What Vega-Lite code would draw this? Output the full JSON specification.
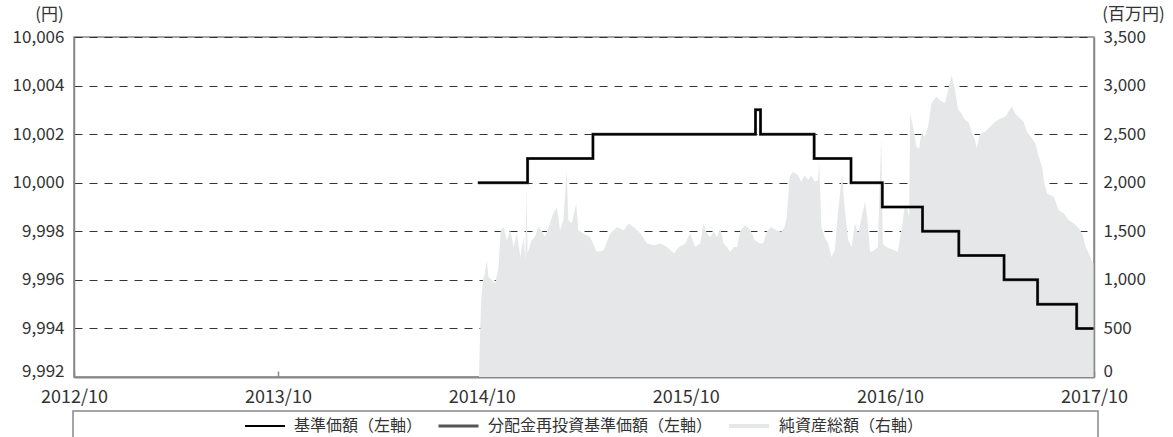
{
  "$schema": "https://vega.github.io/schema/vega-lite/v6.json",
  "width": 1020,
  "height": 340,
  "autosize": {"type": "none"},
  "padding": {"left": 74, "top": 37, "right": 79, "bottom": 60},
  "background": "#ffffff",
  "config": {
    "font": "Noto Sans CJK JP",
    "view": {"stroke": "#888888", "strokeWidth": 1.5},
    "axis": {
      "labelFont": "Noto Sans CJK JP",
      "labelFontSize": 17,
      "labelColor": "#333333",
      "domainColor": "#888888",
      "domainWidth": 1.5,
      "ticks": false,
      "grid": false,
      "titleFont": "Noto Sans CJK JP",
      "titleFontSize": 17,
      "titleFontWeight": "normal",
      "titleColor": "#333333"
    },
    "legend": {
      "orient": "none",
      "legendX": -1,
      "legendY": 374,
      "direction": "horizontal",
      "symbolType": "stroke",
      "symbolSize": 1600,
      "clipHeight": 18,
      "labelFont": "Noto Sans CJK JP",
      "labelFontSize": 16,
      "labelColor": "#333333",
      "labelOffset": 8,
      "labelLimit": 800,
      "columnPadding": 14,
      "padding": 6,
      "strokeColor": "#888888",
      "strokeWidth": 1.5,
      "titleOrient": "left",
      "titleFont": "DejaVu Sans",
      "titleFontSize": 16,
      "titleFontWeight": "normal",
      "titlePadding": 0,
      "titleLimit": 800
    }
  },
  "datasets": {
    "nav": [
      {"date": "2014-09-24", "nav": 10000, "reinvest": 10000},
      {"date": "2014-12-22", "nav": 10001, "reinvest": 10001},
      {"date": "2015-04-18", "nav": 10002, "reinvest": 10002},
      {"date": "2016-02-03", "nav": 10003, "reinvest": 10003},
      {"date": "2016-02-12", "nav": 10002, "reinvest": 10002},
      {"date": "2016-05-18", "nav": 10001, "reinvest": 10001},
      {"date": "2016-07-23", "nav": 10000, "reinvest": 10000},
      {"date": "2016-09-17", "nav": 9999, "reinvest": 9999},
      {"date": "2016-11-28", "nav": 9998, "reinvest": 9998},
      {"date": "2017-02-01", "nav": 9997, "reinvest": 9997},
      {"date": "2017-04-23", "nav": 9996, "reinvest": 9996},
      {"date": "2017-06-22", "nav": 9995, "reinvest": 9995},
      {"date": "2017-08-31", "nav": 9994, "reinvest": 9994},
      {"date": "2017-09-30", "nav": 9994, "reinvest": 9994}
    ],
    "aum": [
      {"date": "2014-09-26", "aum": 0},
      {"date": "2014-09-28", "aum": 450},
      {"date": "2014-09-30", "aum": 800},
      {"date": "2014-10-03", "aum": 997},
      {"date": "2014-10-06", "aum": 1050},
      {"date": "2014-10-10", "aum": 1202},
      {"date": "2014-10-13", "aum": 1030},
      {"date": "2014-10-19", "aum": 1000},
      {"date": "2014-10-25", "aum": 962},
      {"date": "2014-10-31", "aum": 1133},
      {"date": "2014-11-04", "aum": 1511},
      {"date": "2014-11-09", "aum": 1545},
      {"date": "2014-11-15", "aum": 1408},
      {"date": "2014-11-21", "aum": 1511},
      {"date": "2014-11-27", "aum": 1339},
      {"date": "2014-12-03", "aum": 1480},
      {"date": "2014-12-09", "aum": 1236},
      {"date": "2014-12-15", "aum": 1442},
      {"date": "2014-12-18", "aum": 1202},
      {"date": "2014-12-20", "aum": 1957},
      {"date": "2014-12-22", "aum": 1274},
      {"date": "2014-12-29", "aum": 1408},
      {"date": "2015-01-04", "aum": 1442},
      {"date": "2015-01-10", "aum": 1545},
      {"date": "2015-01-16", "aum": 1511},
      {"date": "2015-01-22", "aum": 1442},
      {"date": "2015-01-31", "aum": 1583},
      {"date": "2015-02-06", "aum": 1683},
      {"date": "2015-02-12", "aum": 1751},
      {"date": "2015-02-15", "aum": 1648},
      {"date": "2015-02-18", "aum": 1511},
      {"date": "2015-02-24", "aum": 1614},
      {"date": "2015-03-02", "aum": 2130},
      {"date": "2015-03-05", "aum": 1614},
      {"date": "2015-03-11", "aum": 1583},
      {"date": "2015-03-19", "aum": 1786},
      {"date": "2015-03-23", "aum": 1511},
      {"date": "2015-04-01", "aum": 1477},
      {"date": "2015-04-13", "aum": 1442},
      {"date": "2015-04-25", "aum": 1288},
      {"date": "2015-05-07", "aum": 1305},
      {"date": "2015-05-19", "aum": 1477},
      {"date": "2015-05-31", "aum": 1545},
      {"date": "2015-06-12", "aum": 1511},
      {"date": "2015-06-21", "aum": 1580},
      {"date": "2015-06-30", "aum": 1545},
      {"date": "2015-07-12", "aum": 1477},
      {"date": "2015-07-24", "aum": 1374},
      {"date": "2015-08-05", "aum": 1357},
      {"date": "2015-08-17", "aum": 1374},
      {"date": "2015-08-29", "aum": 1339},
      {"date": "2015-09-10", "aum": 1271},
      {"date": "2015-09-19", "aum": 1339},
      {"date": "2015-09-30", "aum": 1374},
      {"date": "2015-10-09", "aum": 1477},
      {"date": "2015-10-18", "aum": 1339},
      {"date": "2015-10-27", "aum": 1374},
      {"date": "2015-11-02", "aum": 1580},
      {"date": "2015-11-08", "aum": 1477},
      {"date": "2015-11-14", "aum": 1442},
      {"date": "2015-11-20", "aum": 1494},
      {"date": "2015-11-26", "aum": 1442},
      {"date": "2015-12-02", "aum": 1529},
      {"date": "2015-12-08", "aum": 1374},
      {"date": "2015-12-14", "aum": 1339},
      {"date": "2015-12-20", "aum": 1288},
      {"date": "2015-12-26", "aum": 1339},
      {"date": "2016-01-01", "aum": 1339},
      {"date": "2016-01-07", "aum": 1511},
      {"date": "2016-01-16", "aum": 1563},
      {"date": "2016-01-25", "aum": 1511},
      {"date": "2016-02-02", "aum": 1408},
      {"date": "2016-02-11", "aum": 1374},
      {"date": "2016-02-17", "aum": 1374},
      {"date": "2016-02-23", "aum": 1494},
      {"date": "2016-03-02", "aum": 1545},
      {"date": "2016-03-11", "aum": 1511},
      {"date": "2016-03-20", "aum": 1494},
      {"date": "2016-03-26", "aum": 1545},
      {"date": "2016-03-30", "aum": 1648},
      {"date": "2016-04-04", "aum": 2060},
      {"date": "2016-04-10", "aum": 2112},
      {"date": "2016-04-19", "aum": 2078},
      {"date": "2016-04-25", "aum": 2009},
      {"date": "2016-05-01", "aum": 2078},
      {"date": "2016-05-07", "aum": 2027},
      {"date": "2016-05-13", "aum": 2078},
      {"date": "2016-05-19", "aum": 2009},
      {"date": "2016-05-25", "aum": 2027},
      {"date": "2016-05-27", "aum": 2215},
      {"date": "2016-05-31", "aum": 1545},
      {"date": "2016-06-06", "aum": 1442},
      {"date": "2016-06-12", "aum": 1374},
      {"date": "2016-06-18", "aum": 1236},
      {"date": "2016-06-24", "aum": 1305},
      {"date": "2016-06-30", "aum": 1717},
      {"date": "2016-07-04", "aum": 1924},
      {"date": "2016-07-07", "aum": 2095},
      {"date": "2016-07-12", "aum": 1717},
      {"date": "2016-07-18", "aum": 1408},
      {"date": "2016-07-24", "aum": 1339},
      {"date": "2016-07-30", "aum": 1580},
      {"date": "2016-08-05", "aum": 1477},
      {"date": "2016-08-11", "aum": 1648},
      {"date": "2016-08-17", "aum": 1803},
      {"date": "2016-08-21", "aum": 1648},
      {"date": "2016-08-26", "aum": 1288},
      {"date": "2016-09-03", "aum": 1305},
      {"date": "2016-09-09", "aum": 1339},
      {"date": "2016-09-15", "aum": 2473},
      {"date": "2016-09-18", "aum": 1374},
      {"date": "2016-09-24", "aum": 1339},
      {"date": "2016-09-30", "aum": 1323},
      {"date": "2016-10-09", "aum": 1305},
      {"date": "2016-10-15", "aum": 1288},
      {"date": "2016-10-18", "aum": 1408},
      {"date": "2016-10-23", "aum": 1580},
      {"date": "2016-10-27", "aum": 1751},
      {"date": "2016-10-31", "aum": 1751},
      {"date": "2016-11-04", "aum": 1648},
      {"date": "2016-11-06", "aum": 2713},
      {"date": "2016-11-11", "aum": 2576},
      {"date": "2016-11-17", "aum": 2370},
      {"date": "2016-11-22", "aum": 2353},
      {"date": "2016-11-26", "aum": 2507},
      {"date": "2016-12-02", "aum": 2473},
      {"date": "2016-12-08", "aum": 2576},
      {"date": "2016-12-14", "aum": 2817},
      {"date": "2016-12-23", "aum": 2885},
      {"date": "2016-12-29", "aum": 2851},
      {"date": "2017-01-07", "aum": 2817},
      {"date": "2017-01-13", "aum": 2954},
      {"date": "2017-01-19", "aum": 3108},
      {"date": "2017-01-25", "aum": 2954},
      {"date": "2017-01-31", "aum": 2748},
      {"date": "2017-02-06", "aum": 2713},
      {"date": "2017-02-12", "aum": 2645},
      {"date": "2017-02-18", "aum": 2627},
      {"date": "2017-02-24", "aum": 2524},
      {"date": "2017-03-02", "aum": 2439},
      {"date": "2017-03-05", "aum": 2353},
      {"date": "2017-03-11", "aum": 2507},
      {"date": "2017-03-20", "aum": 2524},
      {"date": "2017-03-29", "aum": 2576},
      {"date": "2017-04-07", "aum": 2627},
      {"date": "2017-04-16", "aum": 2662},
      {"date": "2017-04-25", "aum": 2679},
      {"date": "2017-05-01", "aum": 2731},
      {"date": "2017-05-07", "aum": 2782},
      {"date": "2017-05-13", "aum": 2713},
      {"date": "2017-05-22", "aum": 2662},
      {"date": "2017-05-28", "aum": 2627},
      {"date": "2017-06-03", "aum": 2524},
      {"date": "2017-06-12", "aum": 2456},
      {"date": "2017-06-18", "aum": 2404},
      {"date": "2017-06-24", "aum": 2267},
      {"date": "2017-06-30", "aum": 2164},
      {"date": "2017-07-04", "aum": 1992},
      {"date": "2017-07-09", "aum": 1889},
      {"date": "2017-07-21", "aum": 1855},
      {"date": "2017-07-30", "aum": 1717},
      {"date": "2017-08-08", "aum": 1683},
      {"date": "2017-08-17", "aum": 1614},
      {"date": "2017-08-26", "aum": 1580},
      {"date": "2017-09-04", "aum": 1529},
      {"date": "2017-09-10", "aum": 1477},
      {"date": "2017-09-16", "aum": 1339},
      {"date": "2017-09-22", "aum": 1271},
      {"date": "2017-09-28", "aum": 1185},
      {"date": "2017-09-30", "aum": 1168}
    ]
  },
  "encoding": {
    "x": {
      "field": "date",
      "type": "temporal",
      "scale": {
        "type": "utc",
        "domain": [
          {"year": 2012, "month": 10, "date": 1, "utc": true},
          {"year": 2017, "month": 10, "date": 1, "utc": true}
        ]
      },
      "axis": {
        "title": null,
        "format": "%Y/%m",
        "values": [
          {"year": 2012, "month": 10, "date": 1, "utc": true},
          {"year": 2013, "month": 10, "date": 1, "utc": true},
          {"year": 2014, "month": 10, "date": 1, "utc": true},
          {"year": 2015, "month": 10, "date": 1, "utc": true},
          {"year": 2016, "month": 10, "date": 1, "utc": true},
          {"year": 2017, "month": 10, "date": 1, "utc": true}
        ],
        "labelFlush": false,
        "labelOverlap": false,
        "labelFontSize": 18,
        "ticks": true,
        "tickSize": -6,
        "tickColor": "#888888",
        "tickWidth": 1.5,
        "labelPadding": 17,
        "domainWidth": 2
      }
    }
  },
  "layer": [
    {
      "data": {"name": "aum"},
      "mark": {"type": "area", "interpolate": "linear", "color": "#e6e7e8"},
      "encoding": {
        "y": {
          "field": "aum",
          "type": "quantitative",
          "scale": {"domain": [0, 3500], "nice": false},
          "axis": {
            "orient": "right",
            "values": [0, 500, 1000, 1500, 2000, 2500, 3000, 3500],
            "format": ",d",
            "labelPadding": 9,
            "labelOffset": {"condition": {"test": "datum.value == 0", "value": -6}, "value": 0},
            "title": "(百万円)",
            "titleAngle": 0,
            "titleAlign": "center",
            "titleBaseline": "middle",
            "titleX": 39,
            "titleY": -23
          }
        }
      }
    },
    {
      "data": {"name": "nav"},
      "encoding": {
        "color": {
          "scale": {
            "domain": ["基準価額（左軸）", "分配金再投資基準価額（左軸）", "純資産総額（右軸）"],
            "range": ["#000000", "#555555", "#e6e7e8"]
          },
          "legend": {
            "title": "⠀⠀⠀⠀⠀⠀⠀⠀⠀⠀⠀⠀⠀⠀",
            "labelExpr": "datum.label == '純資産総額（右軸）' ? datum.label + '⠀⠀⠀⠀⠀⠀⠀⠀⠀⠀⠀⠀⠀⠀' : datum.label"
          }
        },
        "strokeWidth": {
          "scale": {
            "domain": ["基準価額（左軸）", "分配金再投資基準価額（左軸）", "純資産総額（右軸）"],
            "range": [2, 4, 9]
          },
          "legend": {
            "title": "⠀⠀⠀⠀⠀⠀⠀⠀⠀⠀⠀⠀⠀⠀",
            "labelExpr": "datum.label == '純資産総額（右軸）' ? datum.label + '⠀⠀⠀⠀⠀⠀⠀⠀⠀⠀⠀⠀⠀⠀' : datum.label"
          }
        }
      },
      "layer": [
        {
          "mark": {"type": "line", "interpolate": "step-after", "strokeJoin": "miter", "strokeCap": "butt"},
          "encoding": {
            "y": {
              "field": "reinvest",
              "type": "quantitative",
              "scale": {"domain": [9992, 10006], "nice": false, "zero": false},
              "axis": {
                "orient": "left",
                "values": [9992, 9994, 9996, 9998, 10000, 10002, 10004, 10006],
                "format": ",d",
                "labelPadding": 10,
                "labelOffset": {"condition": {"test": "datum.value == 9992", "value": -6}, "value": 0},
                "grid": true,
                "gridDash": [8, 7],
                "gridColor": "#333333",
                "gridWidth": 1,
                "title": "(円)",
                "titleAngle": 0,
                "titleAlign": "center",
                "titleBaseline": "middle",
                "titleX": -25,
                "titleY": -23
              }
            },
            "color": {"datum": "分配金再投資基準価額（左軸）"},
            "strokeWidth": {"datum": "分配金再投資基準価額（左軸）"}
          }
        },
        {
          "mark": {"type": "line", "interpolate": "step-after", "strokeJoin": "miter", "strokeCap": "butt"},
          "encoding": {
            "y": {"field": "nav", "type": "quantitative"},
            "color": {"datum": "基準価額（左軸）"},
            "strokeWidth": {"datum": "基準価額（左軸）"}
          }
        }
      ]
    }
  ],
  "resolve": {"scale": {"y": "independent"}}
}
